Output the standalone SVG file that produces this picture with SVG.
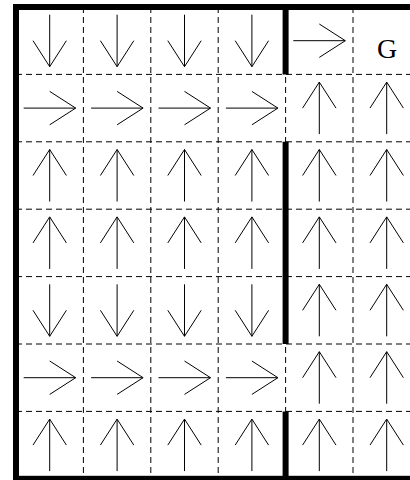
<svg xmlns="http://www.w3.org/2000/svg" xmlns:xlink="http://www.w3.org/1999/xlink" width="410" height="480" viewBox="0 0 410 480">
<style>
.grid{stroke:#000;stroke-width:1;stroke-dasharray:6 4;fill:none}
.wall{stroke:#000;stroke-width:6;fill:none;stroke-linecap:square}
.arr{stroke:#000;stroke-width:1;fill:none}
</style>
<defs>
<g id="up" class="arr"><path d="M0,26 V-26 M-16.7,0 L0,-26 L16.7,0"/></g>
<g id="down"><use xlink:href="#up" transform="rotate(180)"/></g>
<g id="right"><use xlink:href="#up" transform="rotate(90)"/></g>
</defs>
<rect x="0" y="0" width="410" height="480" fill="#fff"/>
<g id="connectors">
<g id="gridlines" class="grid">
<path d="M16,74.4 H420.4 M16,141.8 H420.4 M16,209.2 H420.4 M16,276.6 H420.4 M16,344 H420.4 M16,411.4 H420.4"/>
<path d="M83.4,7 V478.8 M150.8,7 V478.8 M218.2,7 V478.8 M285.6,7 V478.8 M353,7 V478.8"/>
</g>
<g id="walls" class="wall">
<rect x="16" y="7" width="404.4" height="471.8"/>
<path d="M285.6,7 V74.4 M285.6,141.8 V344 M285.6,411.4 V478.8" style="stroke-linecap:butt"/>
</g>
</g>
<g id="r0c0"><use xlink:href="#down" x="49.7" y="40.7"/></g>
<g id="r0c1"><use xlink:href="#down" x="117.1" y="40.7"/></g>
<g id="r0c2"><use xlink:href="#down" x="184.5" y="40.7"/></g>
<g id="r0c3"><use xlink:href="#down" x="251.9" y="40.7"/></g>
<g id="r0c4"><use xlink:href="#right" x="319.3" y="40.7"/></g>
<g id="r0c5"><text x="387" y="57.6" text-anchor="middle" font-family="Liberation Serif, Times New Roman, serif" font-size="28" fill="#000">G</text></g>
<g id="r1c0"><use xlink:href="#right" x="49.7" y="108.1"/></g>
<g id="r1c1"><use xlink:href="#right" x="117.1" y="108.1"/></g>
<g id="r1c2"><use xlink:href="#right" x="184.5" y="108.1"/></g>
<g id="r1c3"><use xlink:href="#right" x="251.9" y="108.1"/></g>
<g id="r1c4"><use xlink:href="#up" x="319.3" y="108.1"/></g>
<g id="r1c5"><use xlink:href="#up" x="386.7" y="108.1"/></g>
<g id="r2c0"><use xlink:href="#up" x="49.7" y="175.5"/></g>
<g id="r2c1"><use xlink:href="#up" x="117.1" y="175.5"/></g>
<g id="r2c2"><use xlink:href="#up" x="184.5" y="175.5"/></g>
<g id="r2c3"><use xlink:href="#up" x="251.9" y="175.5"/></g>
<g id="r2c4"><use xlink:href="#up" x="319.3" y="175.5"/></g>
<g id="r2c5"><use xlink:href="#up" x="386.7" y="175.5"/></g>
<g id="r3c0"><use xlink:href="#up" x="49.7" y="242.9"/></g>
<g id="r3c1"><use xlink:href="#up" x="117.1" y="242.9"/></g>
<g id="r3c2"><use xlink:href="#up" x="184.5" y="242.9"/></g>
<g id="r3c3"><use xlink:href="#up" x="251.9" y="242.9"/></g>
<g id="r3c4"><use xlink:href="#up" x="319.3" y="242.9"/></g>
<g id="r3c5"><use xlink:href="#up" x="386.7" y="242.9"/></g>
<g id="r4c0"><use xlink:href="#down" x="49.7" y="310.3"/></g>
<g id="r4c1"><use xlink:href="#down" x="117.1" y="310.3"/></g>
<g id="r4c2"><use xlink:href="#down" x="184.5" y="310.3"/></g>
<g id="r4c3"><use xlink:href="#down" x="251.9" y="310.3"/></g>
<g id="r4c4"><use xlink:href="#up" x="319.3" y="310.3"/></g>
<g id="r4c5"><use xlink:href="#up" x="386.7" y="310.3"/></g>
<g id="r5c0"><use xlink:href="#right" x="49.7" y="377.7"/></g>
<g id="r5c1"><use xlink:href="#right" x="117.1" y="377.7"/></g>
<g id="r5c2"><use xlink:href="#right" x="184.5" y="377.7"/></g>
<g id="r5c3"><use xlink:href="#right" x="251.9" y="377.7"/></g>
<g id="r5c4"><use xlink:href="#up" x="319.3" y="377.7"/></g>
<g id="r5c5"><use xlink:href="#up" x="386.7" y="377.7"/></g>
<g id="r6c0"><use xlink:href="#up" x="49.7" y="445.1"/></g>
<g id="r6c1"><use xlink:href="#up" x="117.1" y="445.1"/></g>
<g id="r6c2"><use xlink:href="#up" x="184.5" y="445.1"/></g>
<g id="r6c3"><use xlink:href="#up" x="251.9" y="445.1"/></g>
<g id="r6c4"><use xlink:href="#up" x="319.3" y="445.1"/></g>
<g id="r6c5"><use xlink:href="#up" x="386.7" y="445.1"/></g>
</svg>
